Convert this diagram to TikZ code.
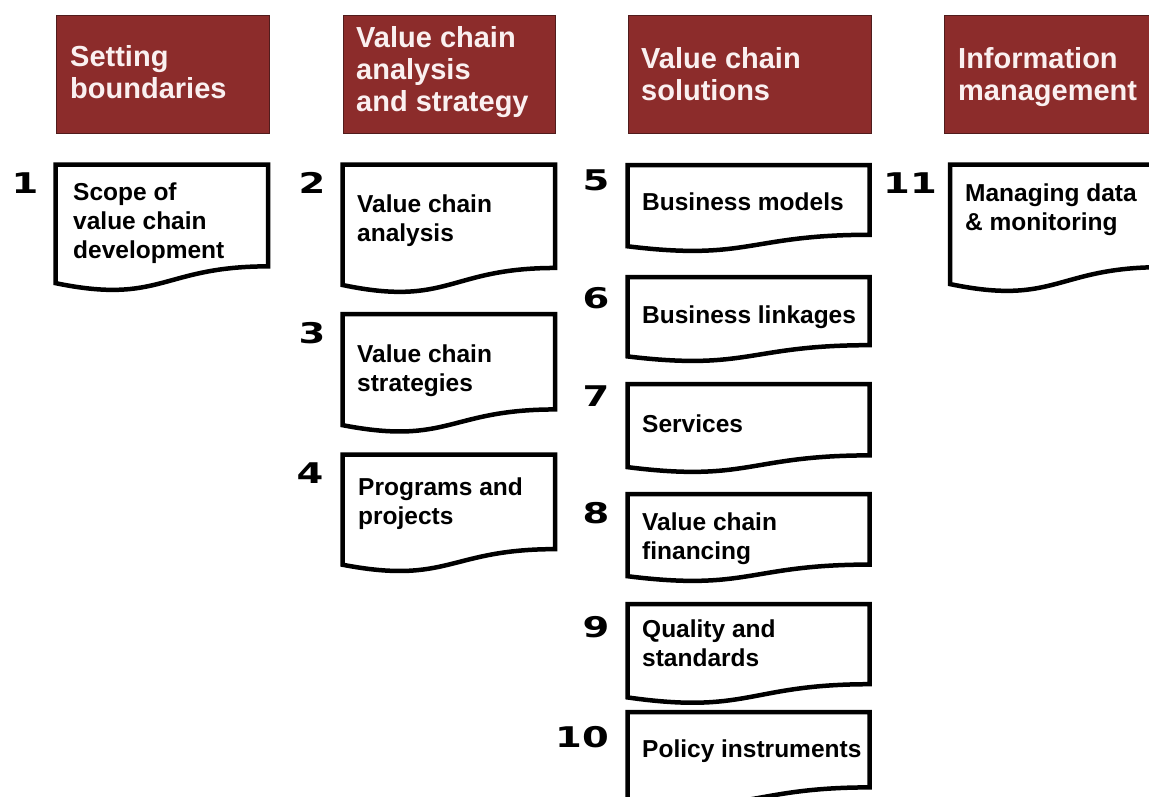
\documentclass[tikz,border=0pt]{standalone}
\usepackage{fontspec}
\setmainfont{Liberation Sans}
\newfontfamily\numfont[FakeStretch=1.35]{DejaVu Sans}
\usetikzlibrary{calc}
\definecolor{hdrfill}{RGB}{140,44,43}
\definecolor{hdrline}{RGB}{80,28,28}
\definecolor{hdrtext}{RGB}{250,240,240}
\tikzset{
  hdrbox/.style={fill=hdrfill, draw=hdrline, line width=0.8pt},
  hdrtxt/.style={anchor=base west, inner sep=0pt, align=left, text=hdrtext,
    font=\fontsize{29}{32}\selectfont\bfseries},
  docline/.style={draw=black, line width=4.5pt, line join=miter, fill=white},
  doctxt/.style={anchor=base west, inner sep=0pt, align=left, text=black,
    font=\fontsize{24.5}{29}\selectfont\bfseries},
  numtxt/.style={anchor=base, inner sep=0pt, text=black,
    font=\numfont\fontsize{28.5}{30}\selectfont\bfseries}
}
% \mydoc{name}{left}{right}{top}{height}
\newcommand\mydoc[5]{%
  \draw[docline] (#2,#4) coordinate (#1) -- (#3,#4)
    -- (#3,{#4+0.802*#5})
    .. controls ({(#2+#3)/2},{#4+0.802*#5}) and ({(#2+#3)/2},{#4+1.107*#5}) .. (#2,{#4+0.934*#5})
    -- cycle;}
\begin{document}
\begin{tikzpicture}[x=1pt,y=-1pt]
\useasboundingbox (0,0) rectangle (1149,796);
\clip (0,0) rectangle (1149,796);
\fill[white] (0,0) rectangle (1149,796);

% headers
\draw[hdrbox] (56,15) rectangle (269,133) coordinate (h1);
\draw[hdrbox] (343,15) rectangle (555,133) coordinate (h2);
\draw[hdrbox] (628,15) rectangle (871,133) coordinate (h3);
\draw[hdrbox] (944,15) rectangle (1165,133) coordinate (h4);
% (anchor = baseline of the last line)
\node[hdrtxt] (h1t) at (70,98) {Setting\\boundaries};
\node[hdrtxt] (h2t) at (356,111) {Value chain\\analysis\\and strategy};
\node[hdrtxt] (h3t) at (641,100) {Value chain\\solutions};
\node[hdrtxt] (h4t) at (958,100) {Information\\management};

% documents
\mydoc{d1}{55.5}{268}{164.5}{127}
\mydoc{d2}{342.5}{555}{164.5}{129}
\mydoc{d3}{342.5}{555}{314}{119}
\mydoc{d4}{342.5}{555}{454.5}{118}
\mydoc{d5}{627.5}{869.5}{165}{87}
\mydoc{d6}{627.5}{869.5}{277}{85}
\mydoc{d7}{627.5}{869.5}{384}{89}
\mydoc{d8}{627.5}{869.5}{494}{88}
\mydoc{d9}{627.5}{869.5}{604}{100}
\mydoc{d10}{627.5}{869.5}{712}{94}
\mydoc{d11}{950}{1162}{164.5}{128}

% document texts (anchor = baseline of the last line)
\node[doctxt] (t1) at (73,258) {Scope of\\value chain\\development};
\node[doctxt] (t2) at (357,241) {Value chain\\analysis};
\node[doctxt] (t3) at (357,391) {Value chain\\strategies};
\node[doctxt] (t4) at (358,524) {Programs and\\projects};
\node[doctxt] (t5) at (642,210) {Business models};
\node[doctxt] (t6) at (642,323) {Business linkages};
\node[doctxt] (t7) at (642,432) {Services};
\node[doctxt] (t8) at (642,559) {Value chain\\financing};
\node[doctxt] (t9) at (642,666) {Quality and\\standards};
\node[doctxt] (t10) at (642,757) {Policy instruments};
\node[doctxt] (t11) at (965,230) {Managing data\\\& monitoring};

% numbers
\node[numtxt] (n1) at (25,193) {1};
\node[numtxt] (n2) at (312,193) {2};
\node[numtxt] (n3) at (312,343) {3};
\node[numtxt] (n4) at (310,483) {4};
\node[numtxt] (n5) at (596,190) {5};
\node[numtxt] (n6) at (596,308) {6};
\node[numtxt] (n7) at (596,406) {7};
\node[numtxt] (n8) at (596,523) {8};
\node[numtxt] (n9) at (596,637) {9};
\node[numtxt] (n10) at (582,747) {10};
\node[numtxt] (n11) at (910,193) {11};
\end{tikzpicture}
\end{document}
